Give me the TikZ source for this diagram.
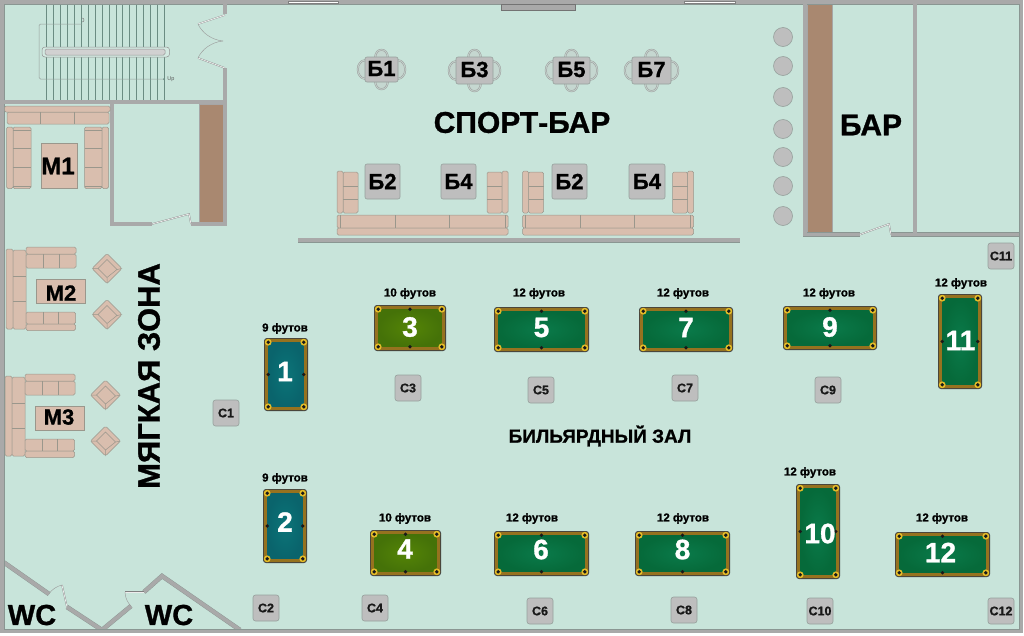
\documentclass[tikz,border=0pt]{standalone}
\usepackage{fontspec}
\setmainfont{Liberation Sans}[BoldFeatures={FakeBold=1}]
\definecolor{mint}{HTML}{C8E4DA}
\definecolor{wallc}{HTML}{A9A9A9}
\definecolor{wallo}{HTML}{8A9692}
\definecolor{brownc}{HTML}{A98870}
\definecolor{sofac}{HTML}{D9BEAE}
\definecolor{sofao}{HTML}{9A978C}
\definecolor{boxc}{HTML}{BEBEBE}
\definecolor{boxo}{HTML}{96A09C}
\definecolor{stairc}{HTML}{6B8C82}
\definecolor{railc}{HTML}{96721F}
\definecolor{pockc}{HTML}{E6BE28}
\definecolor{tealin}{HTML}{0B7478}
\definecolor{tealout}{HTML}{0A646C}
\definecolor{olivein}{HTML}{548407}
\definecolor{oliveout}{HTML}{457208}
\definecolor{greenin}{HTML}{0A7A4A}
\definecolor{greenout}{HTML}{066A3A}
\newcommand{\fs}[1]{\fontsize{#1}{#1}\selectfont\bfseries}
\tikzset{
  wall/.style={line width=.4pt,draw=wallo,double=wallc,double distance=3.8pt},
  doorp/.style={line width=.3pt,draw=gray,double=white!85!gray,double distance=.8pt},
  doorarc/.style={line width=.4pt,draw=gray!80},
  sofa/.style={fill=sofac,draw=sofao,line width=.5pt,rounded corners=1.5pt},
  sofal/.style={draw=sofao,line width=.5pt},
  graybox/.style={fill=boxc,draw=boxo,line width=.6pt,rounded corners=2pt},
  chairc/.style={fill=boxc!35!mint,draw=gray!75,line width=.45pt},
  txt/.style={inner sep=0pt,text=black},
  cbox/.style={fill=boxc,draw=boxo,line width=.6pt,rounded corners=2.5pt,minimum width=26pt,minimum height=26pt,inner sep=0pt,text=black!90},
  stool/.style={fill=boxc,draw=boxo,line width=.6pt},
  pooln/.style={inner sep=0pt,text=white,font=\fs{28}},
}
\newcommand{\btable}[6]{%
  \pgfmathsetmacro\cxm{(#2+#4)/2}\pgfmathsetmacro\cym{(#3+#5)/2}%
  \draw[chairc] (\cxm,#3) ellipse [x radius=7pt,y radius=8pt];
  \draw[chairc] (\cxm,#5) ellipse [x radius=7pt,y radius=8pt];
  \draw[chairc] (#2,\cym) ellipse [x radius=8pt,y radius=10pt];
  \draw[chairc] (#4,\cym) ellipse [x radius=8pt,y radius=10pt];
  \draw[chairc] (\cxm,#3) ellipse [x radius=5.5pt,y radius=6.5pt];
  \draw[chairc] (\cxm,#5) ellipse [x radius=5.5pt,y radius=6.5pt];
  \draw[chairc] (#2,\cym) ellipse [x radius=6.5pt,y radius=8.5pt];
  \draw[chairc] (#4,\cym) ellipse [x radius=6.5pt,y radius=8.5pt];
  \draw[graybox] (#2,#3) rectangle (#4,#5);
  \node[txt,font=\fs{22},yshift=1pt] (#1) at (\cxm,\cym) {#6};
}
\newcommand{\sqbox}[6]{%
  \draw[graybox] (#2,#3) rectangle (#4,#5);
  \pgfmathsetmacro\cxm{(#2+#4)/2}\pgfmathsetmacro\cym{(#3+#5)/2}%
  \node[txt,font=\fs{22}] (#1) at (\cxm,\cym) {#6};
}
\newcommand{\pool}[8]{% x1 y1 x2 y2 in out H/V unused
  \pgfmathsetmacro\cxm{(#1+#3)/2}\pgfmathsetmacro\cym{(#2+#4)/2}%
  \pgfmathsetmacro\xi{#1+.9}\pgfmathsetmacro\yi{#2+.9}\pgfmathsetmacro\xj{#3-.9}\pgfmathsetmacro\yj{#4-.9}%
  \pgfmathsetmacro\xf{#1+4.2}\pgfmathsetmacro\yf{#2+4.2}\pgfmathsetmacro\xg{#3-4.2}\pgfmathsetmacro\yg{#4-4.2}%
  \fill[black!75,rounded corners=3pt] (#1,#2) rectangle (#3,#4);
  \fill[railc,rounded corners=2.5pt] (\xi,\yi) rectangle (\xj,\yj);
  \shade[inner color=#5,outer color=#6] (\xf,\yf) rectangle (\xg,\yg);
  \foreach \px/\py in {\xf/\yf,\xg/\yf,\xf/\yg,\xg/\yg}{
    \fill[pockc] (\px,\py) circle (3.4pt);
    \fill[black!90] (\px,\py) circle (1.9pt);
  }
  \if#7H
    \fill[black!90] (\cxm,\yf) circle (1.9pt);
    \fill[black!90] (\cxm,\yg) circle (1.9pt);
  \else
    \fill[black!90] (\xf,\cym) circle (1.9pt);
    \fill[black!90] (\xg,\cym) circle (1.9pt);
  \fi
}
\newcommand{\armchair}[2]{%
  \begin{scope}[shift={(#1,#2)}]
    \draw[sofa] (-15,0) -- (0,-15) -- (15,0) -- (0,15) -- cycle;
    \draw[sofal] (-9,0) -- (0,-9) -- (10,1) -- (0,9) -- cycle;
    \draw[sofal] (-9,0) -- (-15,0) (10,1) -- (15,0) (0,9) -- (0,15);
  \end{scope}
}
\newcommand{\lounge}[2]{%
  \begin{scope}[shift={(#1,#2)}]
    \draw[sofa] (6,249) rectangle (13,329);
    \draw[sofa] (13,250) rectangle (26,329);
    \draw[sofal] (13,276) -- (26,276) (13,301) -- (26,301);
    \draw[sofa] (26,254) rectangle (76,268);
    \draw[sofa] (26,247) rectangle (76,254);
    \draw[sofal] (43,254) -- (43,268) (59,254) -- (59,268);
    \draw[sofa] (26,312) rectangle (75.5,324);
    \draw[sofa] (26,324) rectangle (75.5,330.5);
    \draw[sofal] (43,312) -- (43,324) (58,312) -- (58,324);
    \draw[sofa,rounded corners=0pt] (36,279) rectangle (85.5,303.5);
  \end{scope}
}
\newcommand{\barsofa}[1]{%
  \begin{scope}[shift={(#1,0)}]
    \draw[sofa] (0,215) rectangle (171,228);
    \draw[sofa] (0,228) rectangle (171,235);
    \draw[sofal] (58,215) -- (58,228) (112,215) -- (112,228) (3,215) -- (3,228) (168,215) -- (168,228);
    \draw[sofa] (6,172) rectangle (21,213);
    \draw[sofa] (0,171) rectangle (6,213);
    \draw[sofal] (6,186) -- (21,186) (6,199) -- (21,199);
    \draw[sofa] (150,172) rectangle (165,213);
    \draw[sofa] (165,171) rectangle (171,213);
    \draw[sofal] (150,186) -- (165,186) (150,199) -- (165,199);
  \end{scope}
}
\begin{document}
\begin{tikzpicture}[x=1pt,y=-1pt]
\useasboundingbox (0,0) rectangle (1024,635);
\fill[white] (0,0) rectangle (1024,635);
\fill[mint] (0,0) rectangle (1023,632);

% stairs
\foreach \sx in {46.7,53.7,60.4,67.4,74.4,81.4,88.4,95.4,102.4,109.4,116.4,122.7,129.7,136.7,143.4,150.4,157.4,164.4}
  \draw[stairc,line width=.5pt] (\sx,4) -- (\sx,100);
\draw[gray!70!mint,line width=.5pt,rounded corners=1.5pt] (82,24) -- (39,24) -- (39,79) -- (164,79);
\fill[stairc] (164,79) circle (1pt);
\draw[gray,line width=.5pt] (82,22) arc (-90:90:2pt);
\draw[gray!85,line width=.5pt,fill=mint!80!white,rounded corners=3pt] (42,47) rectangle (169.5,57);
\draw[gray!85,line width=.5pt,fill=boxc!70!white,rounded corners=1.5pt] (45,49) rectangle (165,55);
\node[txt,font=\fontsize{5.5}{6}\selectfont,text=black!65] (upmark) at (171,79) {Up};

% brown counters
\fill[brownc,draw=gray!70,line width=.3pt] (199.5,104) rectangle (223,222);
\fill[brownc,draw=gray!70,line width=.3pt] (807,4) rectangle (832,234);

% WC walls
\draw[wall] (4,562.5) -- (49,594);
\draw[wall] (67,607) -- (102,630) -- (131,606);
\draw[wall] (144,592) -- (162,576) -- (240,630);

% outer walls
\fill[wallc] (0,0) rectangle (1023,4);
\fill[wallc] (0,0) rectangle (4,632.5);
\fill[wallc] (0,629) rectangle (1023,632.5);
\fill[wallc] (1019,0) rectangle (1023,632.5);
\draw[wallo,line width=.5pt] (4,4) -- (1019,4) -- (1019,629) -- (4,629) -- cycle;
\foreach \wa/\wb in {288/338,684/735}{
  \fill[white,draw=gray,line width=.4pt] (\wa,1) rectangle (\wb,3);
}
\draw[fill=wallc,draw=gray!90!black,line width=.6pt] (501,4) rectangle (575,10);
% inner walls
\draw[wall] (4,102) -- (225,102);
\draw[wall] (225,4) -- (225,14);
\draw[wall] (225,68) -- (225,226);
\draw[wall] (112,102) -- (112,224) -- (152,224);
\draw[wall] (191,224) -- (227,224);
\draw[wall] (805,4) -- (805,234.5) -- (860,234.5);
\draw[wall] (891,234.5) -- (1019,234.5);
\draw[wall] (915,4) -- (915,233);
\draw[wall] (298,240.3) -- (740,240.3);

% doors
\draw[doorp] (225,15) -- (198,24);
\draw[doorp] (225,68) -- (198,58);
\draw[doorarc] (198,24) .. controls (202,33) and (212,40) .. (223,41);
\draw[doorarc] (198,58) .. controls (202,49) and (212,42) .. (223,41);
\draw[doorp] (152,224) -- (189,214) -- (191,224);
\draw[doorp] (860,234.5) -- (889,224) -- (891,234.5);
\draw[doorp] (67,607) -- (62,585);
\draw[doorarc] (62,585) .. controls (57,586) and (51,590) .. (49,594);
\draw[doorp] (144,592) -- (125,592);
\draw[doorarc] (125,592) .. controls (125,598) and (128,603) .. (131,606);

% M1 seating
\draw[sofa] (7,112) rectangle (109,124);
\draw[sofa] (4.5,106) rectangle (110,112);
\draw[sofal] (40,112) -- (40,124) (74.5,112) -- (74.5,124);
\draw[sofa] (13,127) rectangle (31,188.5);
\draw[sofa] (6.5,127) rectangle (13,188.5);
\draw[sofal] (13,148) -- (31,148) (13,167) -- (31,167) (13,130) -- (31,130) (13,186) -- (31,186);
\draw[sofa] (84.5,127) rectangle (102,188.5);
\draw[sofa] (102,127) rectangle (108.5,188.5);
\draw[sofal] (84.5,148) -- (102,148) (84.5,167) -- (102,167) (84.5,130) -- (102,130) (84.5,186) -- (102,186);
\draw[sofa,rounded corners=0pt] (41,143) rectangle (77,188.5);
\node[txt,font=\fs{24}] (m1) at (58,166) {М1};

% M2, M3
\lounge{0}{0}
\node[txt,font=\fs{22}] (m2) at (61,293) {М2};
\armchair{107}{268.5}
\armchair{107}{314.5}
\lounge{-1}{127}
\node[txt,font=\fs{22}] (m3) at (59,417) {М3};
\armchair{105.5}{395}
\armchair{105.5}{441}
\node[txt,rotate=90,font=\fs{31}] (softzone) at (149,376) {МЯГКАЯ ЗОНА};

% WC
\node[txt,font=\fs{29}] (wc1) at (32,615) {WC};
\node[txt,font=\fs{29}] (wc2) at (169,615) {WC};

% sport bar
\btable{b1}{365}{57}{398}{82}{Б1}
\btable{b3}{456}{57}{493}{84}{Б3}
\btable{b5}{553}{57}{590}{84}{Б5}
\btable{b7}{632}{57}{671}{84}{Б7}
\node[txt,font=\fs{30}] (sportbar) at (522,122.5) {СПОРТ-БАР};
\barsofa{337}
\barsofa{522.5}
\sqbox{b2a}{365}{164}{400}{199}{Б2}
\sqbox{b4a}{441}{164}{476}{199}{Б4}
\sqbox{b2b}{552}{164}{587}{199}{Б2}
\sqbox{b4b}{629}{164}{665}{199}{Б4}

% bar
\foreach \sy in {37,66,97,129,157,186,216}
  \draw[stool] (783,\sy) circle (9.5pt);
\node[txt,font=\fs{30}] (barlabel) at (871,125) {БАР};

% tables
\pool{264}{338}{308}{411}{tealin}{tealout}{V}{}
\pool{263}{489}{307}{563}{tealin}{tealout}{V}{}
\pool{374}{305}{446}{351}{olivein}{oliveout}{H}{}
\pool{370}{530}{441}{576}{olivein}{oliveout}{H}{}
\pool{494}{307}{589}{352}{greenin}{greenout}{H}{}
\pool{494}{531}{589}{576}{greenin}{greenout}{H}{}
\pool{639}{307}{733}{352}{greenin}{greenout}{H}{}
\pool{635}{531}{730}{576}{greenin}{greenout}{H}{}
\pool{783}{306}{877}{350}{greenin}{greenout}{H}{}
\pool{796}{484}{840}{579}{greenin}{greenout}{V}{}
\pool{938}{294}{982}{389}{greenin}{greenout}{V}{}
\pool{895}{532}{990}{577}{greenin}{greenout}{H}{}
\foreach \tname/\tx/\ty/\tn in {t1/285/371.5/1,t2/285/522/2,t3/410/327/3,t4/405/549/4,t5/541.5/327.5/5,t6/541/549.5/6,t7/686/327.5/7,t8/682.5/549.5/8,t9/830/327/9,t10/820/533.5/10,t11/960.5/340.5/11,t12/940.5/552.5/12}
  \node[pooln] (\tname) at (\tx,\ty) {\tn};

% table size labels
\foreach \lname/\lx/\ly/\lt in {l1/285/327/9 футов,l2/285/477/9 футов,l3/410/292/10 футов,l4/405/517/10 футов,l5/539/292/12 футов,l6/532/517/12 футов,l7/683/292/12 футов,l8/683/517/12 футов,l9/829/292/12 футов,l10/810/471/12 футов,l11/961/282/12 футов,l12/942/517/12 футов}
  \node[txt,font=\fs{11.5},yshift=-1.5pt] (\lname) at (\lx,\ly) {\lt};

\node[txt,font=\fs{19}] (hall) at (600,436) {БИЛЬЯРДНЫЙ ЗАЛ};

% C boxes
\foreach \cname/\cx/\cy/\ct in {c1/226/413/С1,c2/266/608/С2,c3/408/388/С3,c4/375/608/С4,c5/541/390/С5,c6/540/611/С6,c7/685/388/С7,c8/684/610/С8,c9/828/390/С9,c10/820/611/С10,c11/1001/256/С11,c12/1001/611/С12}
  \node[cbox,font=\fs{12.5}] (\cname) at (\cx,\cy) {\ct};
\end{tikzpicture}
\end{document}
